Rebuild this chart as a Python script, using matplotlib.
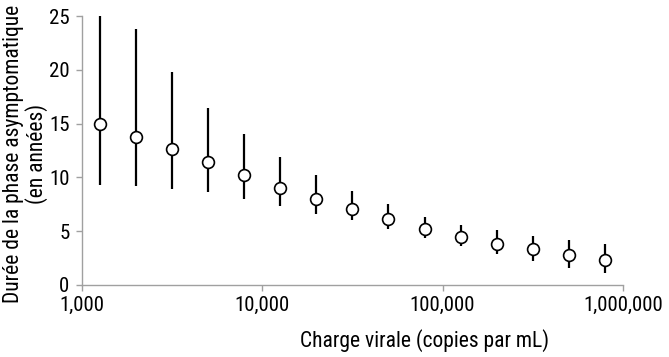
import numpy as np
import matplotlib.pyplot as plt
from matplotlib.ticker import FuncFormatter

# log10 of viral load, one point every 0.2 decade
log_load = [3.1, 3.3, 3.5, 3.7, 3.9, 4.1, 4.3, 4.5, 4.7, 4.9, 5.1, 5.3, 5.5, 5.7, 5.9]
duration = [15.0, 13.8, 12.6, 11.4, 10.2, 9.05, 8.0, 7.03, 6.1, 5.2, 4.5, 3.85, 3.3, 2.75, 2.3]
upper = [25.0, 23.8, 19.8, 16.5, 14.0, 11.9, 10.2, 8.77, 7.5, 6.35, 5.55, 5.1, 4.55, 4.2, 3.8]
lower = [9.3, 9.2, 8.9, 8.6, 8.0, 7.3, 6.6, 6.0, 5.2, 4.4, 3.65, 2.85, 2.2, 1.6, 1.1]

x_ticks = [1e3, 1e4, 1e5, 1e6]
y_ticks = [0, 5, 10, 15, 20, 25]

plt.rcParams['font.family'] = ['Roboto Condensed', 'Liberation Sans', 'DejaVu Sans']

load = 10 ** np.array(log_load)
dur = np.array(duration)
yerr = [dur - np.array(lower), np.array(upper) - dur]

fig = plt.figure(figsize=(6.69, 3.57), dpi=100)
ax = fig.add_axes([0.1226, 0.2017, 0.8084, 0.7533])

ax.errorbar(load, dur, yerr=yerr, fmt='o', color='black', ecolor='black',
            elinewidth=1.6, capsize=0, markersize=8.5, markerfacecolor='white',
            markeredgecolor='black', markeredgewidth=1.2, zorder=3)

ax.set_xscale('log')
ax.set_xlim(1e3, 1e6)
ax.set_ylim(0, 25)
ax.set_xticks(x_ticks)
ax.xaxis.set_minor_locator(plt.NullLocator())
ax.xaxis.set_major_formatter(FuncFormatter(lambda v, p: f"{int(round(v)):,}"))
ax.set_yticks(y_ticks)

for s in ['top', 'right']:
    ax.spines[s].set_visible(False)
for s in ['left', 'bottom']:
    ax.spines[s].set_color('#a0a0a0')
    ax.spines[s].set_linewidth(1.0)

ax.tick_params(axis='both', colors='#a0a0a0', labelcolor='black', labelsize=15,
               length=4, width=1.0)
ax.tick_params(axis='x', pad=4)
ax.tick_params(axis='y', pad=5)

fig.text(0.635, 0.045, "Charge virale (copies par mL)", ha='center', va='center',
         fontsize=15.5)
fig.text(0.038, 0.57, "Durée de la phase asymptomatique\n(en années)", ha='center',
         va='center', rotation=90, fontsize=15.5, linespacing=1.1)

fig.savefig('out.png', dpi=100)
